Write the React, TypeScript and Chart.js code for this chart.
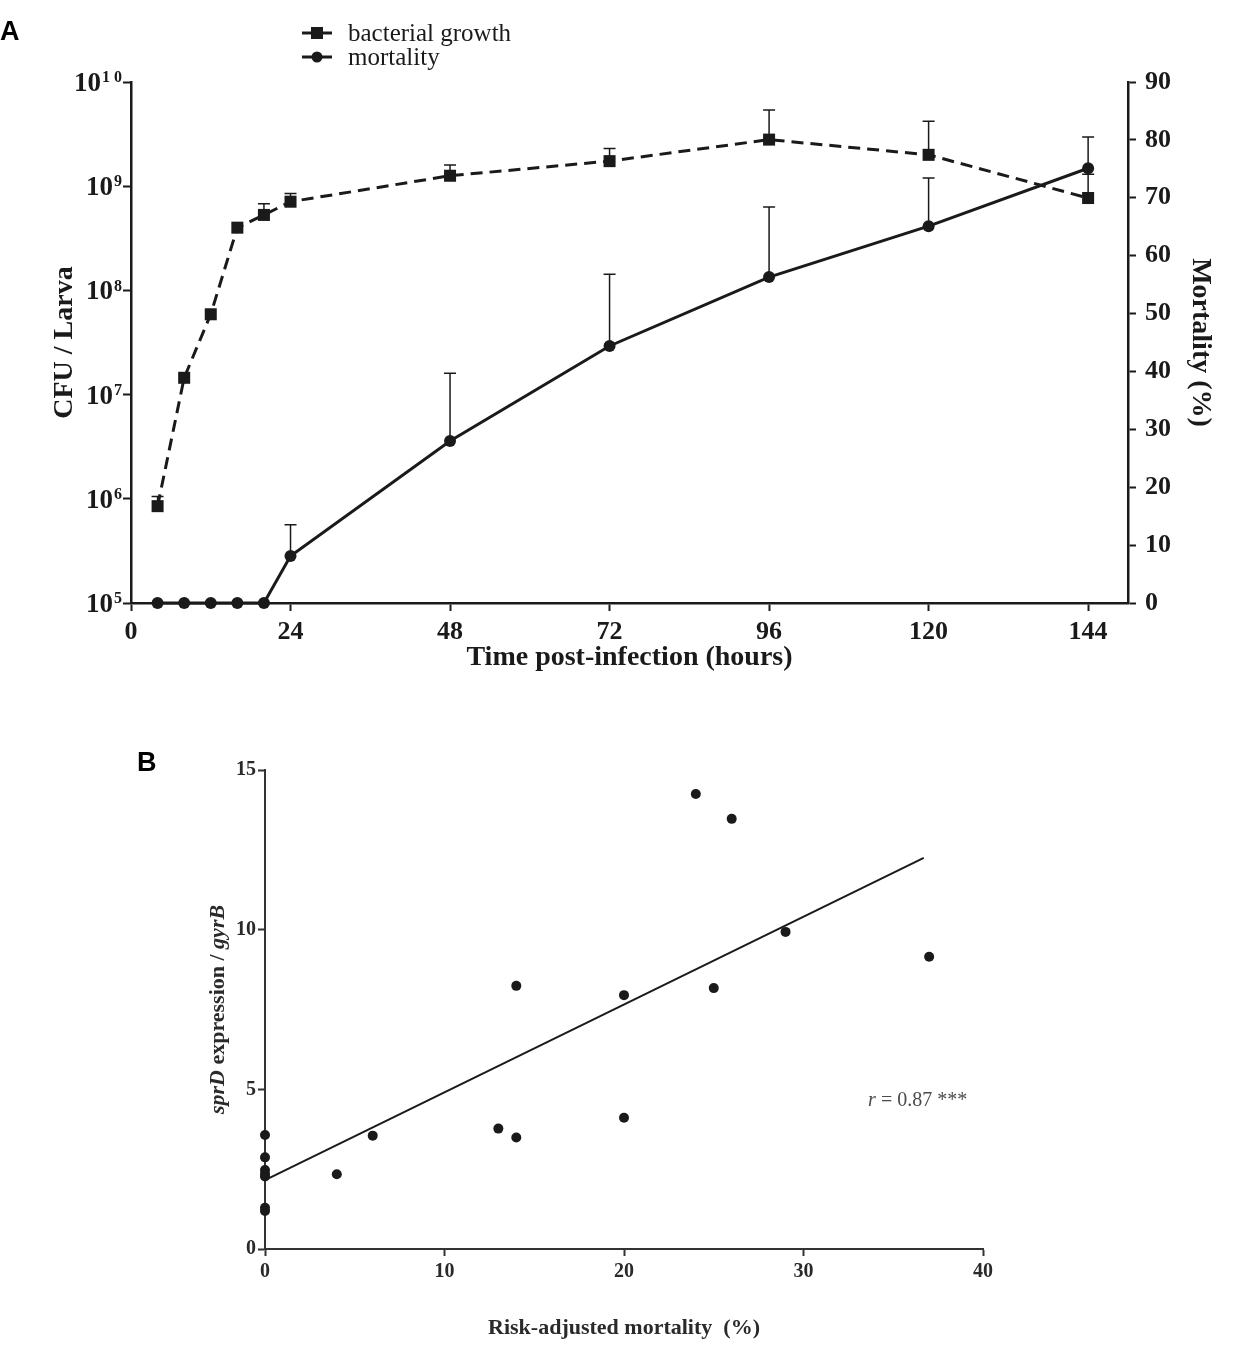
import { useEffect, useRef } from "react";
import { Chart, registerables } from "chart.js";

Chart.register(...registerables);

const SERIF = '"Liberation Serif", "Times New Roman", serif';
const INK = "#1a1a1a";

// panel A: growth and mortality over time
const hours = [4, 8, 12, 16, 20, 24, 48, 72, 96, 120, 144];
const cfuPerLarva = [8.5e5, 1.45e7, 5.9e7, 4.0e8, 5.3e8, 7.1e8, 1.26e9, 1.74e9, 2.8e9, 2.0e9, 7.7e8];
const cfuUpper = [1.05e6, null, null, null, 6.8e8, 8.5e8, 1.6e9, 2.3e9, 5.4e9, 4.2e9, 1.3e9];
const mortality = [0, 0, 0, 0, 0, 8.1, 28, 44.4, 56.3, 65.1, 75.1];
const mortalityUpper = [null, null, null, null, null, 13.5, 39.7, 56.8, 68.4, 73.4, 80.5];
const hourTicks = [0, 24, 48, 72, 96, 120, 144];
const cfuTicks = [1e5, 1e6, 1e7, 1e8, 1e9, 1e10];
const cfuExponents = ["5", "6", "7", "8", "9", "1 0"];
const mortalityTicks = [0, 10, 20, 30, 40, 50, 60, 70, 80, 90];

// panel B: sprD expression vs risk-adjusted mortality
const riskMortality = [0, 0, 0, 0, 0, 0, 0, 4, 6, 13, 14, 20, 14, 20, 25, 29, 37, 24, 26];
const sprdExpression = [3.57, 2.87, 2.47, 2.35, 2.27, 1.29, 1.19, 2.34, 3.55, 3.77, 3.49, 4.11, 8.24, 7.95, 8.17, 9.93, 9.15, 14.25, 13.47];
const fitX = [0, 36.7];
const fitY = [2.16, 12.25];
const mortalityTicksB = [0, 10, 20, 30, 40];
const expressionTicks = [0, 5, 10, 15];

const tickGrid = (len: number) => ({
  display: true,
  drawOnChartArea: false,
  drawTicks: true,
  tickLength: len,
  tickWidth: 2,
  tickColor: INK,
});

const makeErrorBars = (sets: { index: number; upper: (number | null)[] }[]) => ({
  id: "errorBars",
  beforeDatasetsDraw(chart: any) {
    const ctx = chart.ctx;
    ctx.save();
    ctx.strokeStyle = INK;
    ctx.lineWidth = 1.5;
    sets.forEach(({ index, upper }) => {
      const meta = chart.getDatasetMeta(index);
      const yScale = chart.scales[meta.yAxisID];
      meta.data.forEach((pt: any, i: number) => {
        const u = upper[i];
        if (u == null) return;
        const yTop = yScale.getPixelForValue(u);
        ctx.beginPath();
        ctx.moveTo(pt.x, pt.y);
        ctx.lineTo(pt.x, yTop);
        ctx.moveTo(pt.x - 6, yTop);
        ctx.lineTo(pt.x + 6, yTop);
        ctx.stroke();
      });
    });
    ctx.restore();
  },
});

const cfuLabels = {
  id: "cfuLabels",
  afterDraw(chart: any) {
    const { ctx } = chart;
    const scale = chart.scales.y;
    ctx.save();
    ctx.fillStyle = INK;
    ctx.textBaseline = "middle";
    ctx.textAlign = "left";
    cfuTicks.forEach((v, i) => {
      const y = scale.getPixelForValue(v) + 2;
      ctx.font = `bold 27px ${SERIF}`;
      const wBase = ctx.measureText("10").width;
      ctx.font = `bold 16px ${SERIF}`;
      const wExp = ctx.measureText(cfuExponents[i]).width;
      const x0 = 122 - wExp - 1 - wBase;
      ctx.font = `bold 27px ${SERIF}`;
      ctx.fillText("10", x0, y);
      ctx.font = `bold 16px ${SERIF}`;
      ctx.fillText(cfuExponents[i], x0 + wBase + 1, y - 6);
    });
    ctx.restore();
  },
};

const legendA = {
  id: "legendA",
  afterDraw(chart: any) {
    const { ctx } = chart;
    const items = [
      { label: "bacterial growth", marker: "rect", y: 33 },
      { label: "mortality", marker: "circle", y: 57 },
    ];
    ctx.save();
    ctx.strokeStyle = INK;
    ctx.fillStyle = INK;
    items.forEach((it) => {
      ctx.lineWidth = 3;
      ctx.beginPath();
      ctx.moveTo(302, it.y);
      ctx.lineTo(332, it.y);
      ctx.stroke();
      if (it.marker === "rect") {
        ctx.fillRect(311, it.y - 6, 12, 12);
      } else {
        ctx.beginPath();
        ctx.arc(317, it.y, 5.5, 0, Math.PI * 2);
        ctx.fill();
      }
      ctx.font = `25px ${SERIF}`;
      ctx.textBaseline = "middle";
      ctx.textAlign = "left";
      ctx.fillText(it.label, 348, it.y + 1);
    });
    ctx.restore();
  },
};

type Seg = { text: string; font: string };

function drawRich(ctx: CanvasRenderingContext2D, segs: Seg[], cx: number, cy: number) {
  let total = 0;
  segs.forEach((s) => {
    ctx.font = s.font;
    total += ctx.measureText(s.text).width;
  });
  let x = cx - total / 2;
  ctx.textBaseline = "middle";
  ctx.textAlign = "left";
  segs.forEach((s) => {
    ctx.font = s.font;
    ctx.fillText(s.text, x, cy);
    x += ctx.measureText(s.text).width;
  });
}

const titlesB = {
  id: "titlesB",
  afterDraw(chart: any) {
    const { ctx, chartArea } = chart;
    const xs = chart.scales.x;
    const ys = chart.scales.y;
    ctx.save();
    ctx.fillStyle = "#2a2a2a";
    drawRich(
      ctx,
      [{ text: "Risk-adjusted mortality  (%)", font: `bold 22px ${SERIF}` }],
      (chartArea.left + chartArea.right) / 2,
      628
    );
    ctx.save();
    ctx.translate(218, (chartArea.top + chartArea.bottom) / 2);
    ctx.rotate(-Math.PI / 2);
    drawRich(
      ctx,
      [
        { text: "sprD", font: `italic bold 22px ${SERIF}` },
        { text: " expression / ", font: `bold 22px ${SERIF}` },
        { text: "gyrB", font: `italic bold 22px ${SERIF}` },
      ],
      0,
      0
    );
    ctx.restore();
    ctx.fillStyle = "#4a4a4a";
    const rx = xs.getPixelForValue(33.6);
    const ry = ys.getPixelForValue(4.65);
    ctx.font = `italic 20px ${SERIF}`;
    ctx.textBaseline = "middle";
    ctx.textAlign = "left";
    ctx.fillText("r", rx, ry);
    const w = ctx.measureText("r").width;
    ctx.font = `20px ${SERIF}`;
    ctx.fillText(" = 0.87 ***", rx + w, ry);
    ctx.restore();
  },
};

export default function App() {
  const aRef = useRef<HTMLCanvasElement | null>(null);
  const bRef = useRef<HTMLCanvasElement | null>(null);

  useEffect(() => {
    const charts: Chart[] = [];

    if (aRef.current) {
      charts.push(
        new Chart(aRef.current, {
          type: "line",
          data: {
            datasets: [
              {
                label: "bacterial growth",
                data: hours.map((h, i) => ({ x: h, y: cfuPerLarva[i] })),
                yAxisID: "y",
                borderColor: INK,
                backgroundColor: INK,
                borderWidth: 3,
                borderDash: [12, 7],
                pointStyle: "rect",
                pointRadius: 8.5,
                pointBorderWidth: 0,
                tension: 0,
                clip: false,
              },
              {
                label: "mortality",
                data: hours.map((h, i) => ({ x: h, y: mortality[i] })),
                yAxisID: "y2",
                borderColor: INK,
                backgroundColor: INK,
                borderWidth: 3,
                pointStyle: "circle",
                pointRadius: 6,
                pointBorderWidth: 0,
                tension: 0,
                clip: false,
              },
            ],
          },
          options: {
            animation: false,
            responsive: false,
            layout: { padding: { top: 82, left: 0, right: 0, bottom: 0 } },
            plugins: { legend: { display: false }, tooltip: { enabled: false } },
            scales: {
              x: {
                type: "linear",
                position: "bottom",
                min: 0,
                max: 150,
                afterBuildTicks: (s: any) => {
                  s.ticks = hourTicks.map((value) => ({ value }));
                },
                grid: tickGrid(8),
                border: { color: INK, width: 2.5 },
                ticks: {
                  color: INK,
                  padding: 6,
                  maxRotation: 0,
                  font: { family: SERIF, size: 26, weight: "bold" },
                },
                title: {
                  display: true,
                  text: "Time post-infection (hours)",
                  color: INK,
                  font: { family: SERIF, size: 28, weight: "bold" },
                  padding: { top: 0, bottom: 15 },
                },
                afterFit: (s: any) => {
                  s.height = 87;
                },
              },
              y: {
                type: "logarithmic",
                position: "left",
                min: 1e5,
                max: 1e10,
                afterBuildTicks: (s: any) => {
                  s.ticks = cfuTicks.map((value) => ({ value }));
                },
                grid: tickGrid(8),
                border: { color: INK, width: 2.5 },
                ticks: { display: false },
                title: {
                  display: true,
                  text: "CFU / Larva",
                  color: INK,
                  font: { family: SERIF, size: 28, weight: "bold" },
                  padding: { top: 48, bottom: 0 },
                },
                afterFit: (s: any) => {
                  s.width = 131;
                },
              },
              y2: {
                type: "linear",
                position: "right",
                min: 0,
                max: 90,
                afterBuildTicks: (s: any) => {
                  s.ticks = mortalityTicks.map((value) => ({ value }));
                },
                grid: tickGrid(8),
                border: { color: INK, width: 2.5 },
                ticks: {
                  color: INK,
                  padding: 9,
                  font: { family: SERIF, size: 26, weight: "bold" },
                },
                title: {
                  display: true,
                  text: "Mortality (%)",
                  color: INK,
                  font: { family: SERIF, size: 28, weight: "bold" },
                  padding: { top: 24, bottom: 0 },
                },
                afterFit: (s: any) => {
                  s.width = 113;
                },
              },
            },
          },
          plugins: [
            makeErrorBars([
              { index: 0, upper: cfuUpper },
              { index: 1, upper: mortalityUpper },
            ]),
            cfuLabels,
            legendA,
          ],
        } as any)
      );
    }

    if (bRef.current) {
      charts.push(
        new Chart(bRef.current, {
          type: "scatter",
          data: {
            datasets: [
              {
                label: "samples",
                data: riskMortality.map((x, i) => ({ x, y: sprdExpression[i] })),
                backgroundColor: INK,
                pointRadius: 5,
                pointBorderWidth: 0,
                clip: false,
              },
              {
                label: "fit",
                data: fitX.map((x, i) => ({ x, y: fitY[i] })),
                showLine: true,
                borderColor: INK,
                borderWidth: 2,
                pointRadius: 0,
                clip: false,
              },
            ],
          },
          options: {
            animation: false,
            responsive: false,
            layout: { padding: { top: 70, left: 0, right: 258, bottom: 0 } },
            plugins: { legend: { display: false }, tooltip: { enabled: false } },
            scales: {
              x: {
                type: "linear",
                min: 0,
                max: 40,
                afterBuildTicks: (s: any) => {
                  s.ticks = mortalityTicksB.map((value) => ({ value }));
                },
                grid: { ...tickGrid(7), tickColor: "#333" },
                border: { color: "#333", width: 2 },
                ticks: {
                  color: "#2a2a2a",
                  padding: 4,
                  maxRotation: 0,
                  font: { family: SERIF, size: 20, weight: "bold" },
                },
                afterFit: (s: any) => {
                  s.height = 107;
                },
              },
              y: {
                type: "linear",
                min: 0,
                max: 15,
                afterBuildTicks: (s: any) => {
                  s.ticks = expressionTicks.map((value) => ({ value }));
                },
                grid: { ...tickGrid(7), tickColor: "#333" },
                border: { color: "#333", width: 2 },
                ticks: {
                  color: "#2a2a2a",
                  padding: 2,
                  font: { family: SERIF, size: 20, weight: "bold" },
                },
                afterFit: (s: any) => {
                  s.width = 265;
                },
              },
            },
          },
          plugins: [titlesB],
        } as any)
      );
    }

    return () => charts.forEach((c) => c.destroy());
  }, []);

  const panelLabel = {
    position: "absolute" as const,
    font: 'bold 27px "Liberation Sans", Arial, sans-serif',
    lineHeight: "31px",
    color: "#000",
  };

  return (
    <div style={{ position: "absolute", left: 0, top: 0, width: 1241, height: 1356, background: "#fff" }}>
      <canvas ref={aRef} width={1241} height={690} style={{ position: "absolute", left: 0, top: 0 }} />
      <canvas ref={bRef} width={1241} height={656} style={{ position: "absolute", left: 0, top: 700 }} />
      <div style={{ ...panelLabel, left: 0, top: 16 }}>A</div>
      <div style={{ ...panelLabel, left: 137, top: 747 }}>B</div>
    </div>
  );
}
